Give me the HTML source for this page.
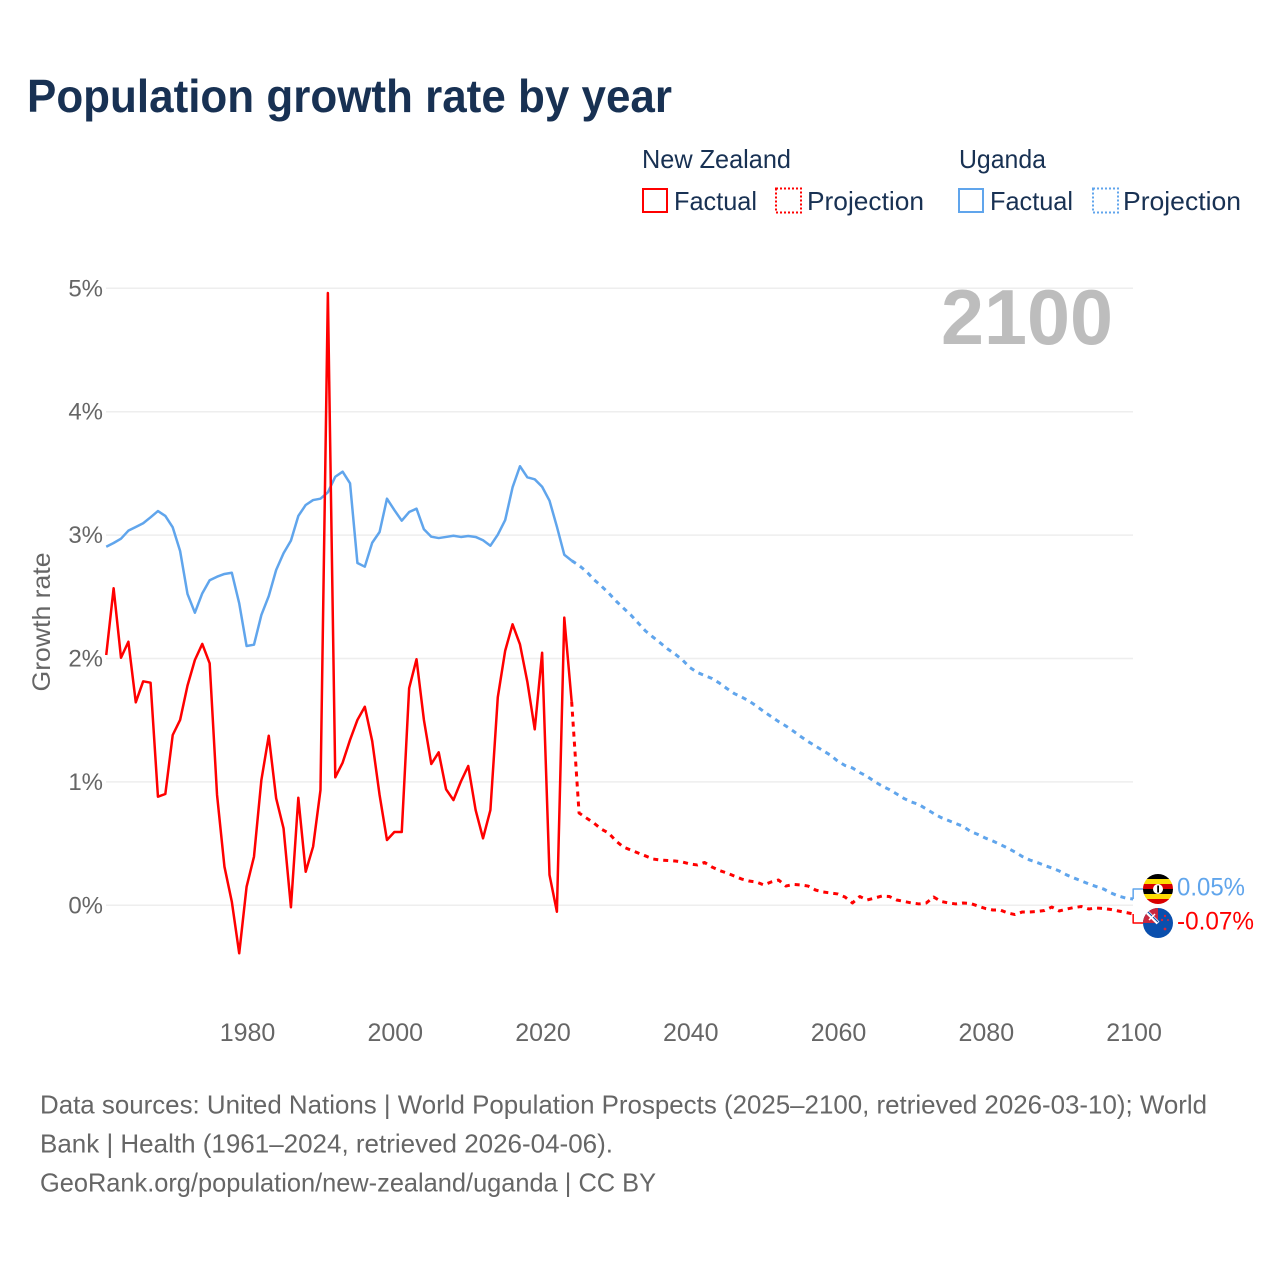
<!DOCTYPE html>
<html lang="en">
<head>
<meta charset="utf-8">
<title>Population growth rate by year</title>
<style>
html,body{margin:0;padding:0;background:#fff;}
svg{display:block;}
text{font-family:"Liberation Sans",sans-serif;}
</style>
</head>
<body>
<svg id="chart" xmlns="http://www.w3.org/2000/svg" width="1280" height="1280" viewBox="0 0 1280 1280">
  <defs>
    <clipPath id="ug-clip"><circle cx="1158" cy="889" r="15"/></clipPath>
    <clipPath id="nz-clip"><circle cx="1158" cy="923" r="15"/></clipPath>
  </defs>
  <rect x="0" y="0" width="1280" height="1280" fill="#fff"/>
  <text x="27" y="112" font-size="46" font-weight="700" fill="#183153" textLength="645" lengthAdjust="spacingAndGlyphs">Population growth rate by year</text>

  <g font-size="26" fill="#183153">
    <text x="642" y="168" textLength="149" lengthAdjust="spacingAndGlyphs">New Zealand</text>
    <rect x="643" y="189" width="24" height="23" fill="none" stroke="#ff0000" stroke-width="2"/>
    <text x="674" y="210" textLength="83" lengthAdjust="spacingAndGlyphs">Factual</text>
    <rect x="776" y="188.500" width="25" height="24" fill="none" stroke="#ff0000" stroke-width="2" stroke-dasharray="2 2"/>
    <text x="807" y="210" textLength="117" lengthAdjust="spacingAndGlyphs">Projection</text>
    <text x="959" y="168" textLength="87" lengthAdjust="spacingAndGlyphs">Uganda</text>
    <rect x="959" y="189" width="24" height="23" fill="none" stroke="#60a5ec" stroke-width="2"/>
    <text x="990" y="210" textLength="83" lengthAdjust="spacingAndGlyphs">Factual</text>
    <rect x="1093" y="188.500" width="25" height="24" fill="none" stroke="#60a5ec" stroke-width="2" stroke-dasharray="2 2"/>
    <text x="1123" y="210" textLength="118" lengthAdjust="spacingAndGlyphs">Projection</text>
  </g>

  <g id="grid"></g>
  <g id="y-ticks"></g>
  <g id="x-ticks"></g>

  <text transform="translate(50,622) rotate(-90)" text-anchor="middle" font-size="25" fill="#666" textLength="139" lengthAdjust="spacingAndGlyphs">Growth rate</text>
  <text x="941" y="344" font-size="78" font-weight="700" fill="#bdbdbd" textLength="172" lengthAdjust="spacingAndGlyphs">2100</text>

  <g id="series"></g>

  <g clip-path="url(#ug-clip)">
    <rect x="1143" y="874" width="30" height="5" fill="#000"/>
    <rect x="1143" y="879" width="30" height="5" fill="#fcdc04"/>
    <rect x="1143" y="884" width="30" height="5" fill="#d90000"/>
    <rect x="1143" y="889" width="30" height="5" fill="#000"/>
    <rect x="1143" y="894" width="30" height="5" fill="#fcdc04"/>
    <rect x="1143" y="899" width="30" height="5" fill="#d90000"/>
    <circle cx="1158" cy="889" r="5" fill="#fff"/>
    <rect x="1157.200" y="885.500" width="1.800" height="7" fill="#000"/>
  </g>
  <g clip-path="url(#nz-clip)">
    <rect x="1143" y="908" width="30" height="30" fill="#0a4fad"/>
    <rect x="1143" y="908" width="15" height="15" fill="#c8283f"/>
    <path d="M1145 910L1158 923" stroke="#fff" stroke-width="4" fill="none"/>
    <path d="M1147 911L1158 922" stroke="#0a4fad" stroke-width="1.200" fill="none"/>
    <path d="M1149 920L1155 914" stroke="#fff" stroke-width="1.500" fill="none"/>
    <circle cx="1165" cy="916" r="1.200" fill="#d5253a"/>
    <circle cx="1162" cy="920" r="1.200" fill="#d5253a"/>
    <circle cx="1168" cy="920" r="1" fill="#d5253a"/>
    <circle cx="1165" cy="929" r="1.400" fill="#d5253a"/>
  </g>

  <text x="1177" y="895.500" font-size="25" fill="#60a5ec" textLength="68" lengthAdjust="spacingAndGlyphs">0.05%</text>
  <text x="1177" y="929.500" font-size="25" fill="#ff0000" textLength="77" lengthAdjust="spacingAndGlyphs">-0.07%</text>

  <g font-size="26" fill="#666">
    <text x="40" y="1113.500" textLength="1167" lengthAdjust="spacingAndGlyphs">Data sources: United Nations | World Population Prospects (2025–2100, retrieved 2026-03-10); World</text>
    <text x="40" y="1152.500" textLength="573" lengthAdjust="spacingAndGlyphs">Bank | Health (1961–2024, retrieved 2026-04-06).</text>
    <text x="40" y="1191.500" textLength="616" lengthAdjust="spacingAndGlyphs">GeoRank.org/population/new-zealand/uganda | CC BY</text>
  </g>
</svg>
<script>
const yTickValues = [0, 1, 2, 3, 4, 5];
const yTickLabels = ["0%", "1%", "2%", "3%", "4%", "5%"];
const xTickYears = [1980, 2000, 2020, 2040, 2060, 2080, 2100];
const xTickLabels = ["1980", "2000", "2020", "2040", "2060", "2080", "2100"];
const factualStartYear = 1961;
const projectionStartYear = 2024;

const nzFactual = [2.028,2.569,2.006,2.136,1.645,1.815,1.804,0.880,0.902,1.380,1.502,1.780,1.988,2.118,1.961,0.894,0.313,0.029,-0.389,0.151,0.394,1.015,1.374,0.867,0.624,-0.016,0.872,0.272,0.475,0.934,4.962,1.037,1.156,1.340,1.502,1.609,1.331,0.894,0.529,0.594,0.594,1.759,1.994,1.502,1.145,1.240,0.940,0.853,1.002,1.129,0.772,0.543,0.772,1.686,2.063,2.277,2.115,1.812,1.426,2.047,0.246,-0.052,2.331,1.650];
const nzProjection = [1.650,0.748,0.707,0.667,0.618,0.586,0.521,0.472,0.448,0.424,0.400,0.375,0.367,0.363,0.359,0.351,0.335,0.327,0.347,0.310,0.282,0.262,0.237,0.213,0.197,0.189,0.165,0.189,0.205,0.156,0.169,0.165,0.156,0.124,0.108,0.100,0.092,0.067,0.019,0.071,0.043,0.059,0.075,0.071,0.043,0.031,0.019,0.011,0.019,0.067,0.031,0.019,0.011,0.019,0.015,-0.006,-0.026,-0.038,-0.038,-0.062,-0.075,-0.054,-0.054,-0.050,-0.042,-0.014,-0.046,-0.030,-0.018,-0.010,-0.030,-0.022,-0.026,-0.034,-0.046,-0.058,-0.070];
const ugFactual = [2.906,2.936,2.971,3.036,3.066,3.096,3.144,3.195,3.155,3.063,2.871,2.523,2.371,2.528,2.634,2.663,2.685,2.695,2.447,2.101,2.112,2.353,2.506,2.717,2.853,2.955,3.155,3.244,3.284,3.295,3.347,3.473,3.514,3.420,2.774,2.744,2.938,3.025,3.295,3.203,3.117,3.187,3.214,3.047,2.987,2.976,2.985,2.995,2.985,2.993,2.985,2.958,2.914,3.003,3.122,3.387,3.558,3.468,3.452,3.392,3.279,3.068,2.841,2.793];
const ugProjection = [2.793,2.754,2.705,2.640,2.588,2.531,2.466,2.409,2.353,2.288,2.223,2.174,2.126,2.077,2.036,1.988,1.927,1.887,1.862,1.838,1.801,1.757,1.716,1.688,1.656,1.615,1.570,1.530,1.489,1.453,1.412,1.368,1.327,1.291,1.254,1.218,1.169,1.133,1.113,1.076,1.044,1.003,0.967,0.938,0.902,0.865,0.837,0.817,0.780,0.744,0.711,0.687,0.663,0.639,0.598,0.574,0.545,0.521,0.493,0.464,0.432,0.395,0.367,0.347,0.323,0.302,0.278,0.246,0.221,0.197,0.173,0.152,0.132,0.100,0.075,0.059,0.051];

const NS = "http://www.w3.org/2000/svg";
const RED = "#ff0000";
const BLUE = "#60a5ec";

function xScale(year) { return 246.6 + (year - 1980) * 7.388; }
function yScale(value) { return 905.3 - value * 123.4; }

function linePath(values, startYear) {
  return values.map(function (v, i) {
    return (i ? "L" : "M") + xScale(startYear + i).toFixed(2) + " " + yScale(v).toFixed(2);
  }).join("");
}

const gridGroup = document.getElementById("grid");
const yTickGroup = document.getElementById("y-ticks");
const xTickGroup = document.getElementById("x-ticks");
const seriesGroup = document.getElementById("series");

yTickValues.forEach(function (v, i) {
  const ln = document.createElementNS(NS, "line");
  
  
  ln.setAttribute("x1", "106");
  ln.setAttribute("x2", "1133");
  ln.setAttribute("y1", yScale(v));
  ln.setAttribute("y2", yScale(v));
  ln.setAttribute("stroke", "#eeeeee");
  ln.setAttribute("stroke-width", "1.500");
  gridGroup.appendChild(ln);

  const t = document.createElementNS(NS, "text");
  
  
  t.setAttribute("x", "103");
  t.setAttribute("y", yScale(v) + 8);
  t.setAttribute("text-anchor", "end");
  t.setAttribute("font-size", "24");
  t.setAttribute("fill", "#666");
  t.textContent = yTickLabels[i];
  yTickGroup.appendChild(t);
});

xTickYears.forEach(function (yr, i) {
  const t = document.createElementNS(NS, "text");
  
  
  t.setAttribute("x", xScale(yr) + 0.9);
  t.setAttribute("y", "1041");
  t.setAttribute("text-anchor", "middle");
  t.setAttribute("font-size", "25");
  t.setAttribute("fill", "#666");
  t.textContent = xTickLabels[i];
  xTickGroup.appendChild(t);
});

function addLine(d, color, dashed, name, width) {
  const p = document.createElementNS(NS, "path");
  
  
  p.setAttribute("d", d);
  p.setAttribute("fill", "none");
  p.setAttribute("stroke", color);
  p.setAttribute("stroke-width", width);
  p.setAttribute("stroke-linejoin", "round");
  if (dashed) p.setAttribute("stroke-dasharray", "5 5");
  seriesGroup.appendChild(p);
}

addLine(linePath(ugFactual, factualStartYear), BLUE, false, "uganda-factual-line", "2.500");
addLine(linePath(ugProjection, projectionStartYear), BLUE, true, "uganda-projection-line", "3");
addLine(linePath(nzFactual, factualStartYear), RED, false, "new-zealand-factual-line", "2.500");
addLine(linePath(nzProjection, projectionStartYear), RED, true, "new-zealand-projection-line", "3");

const endX = xScale(2100);
const ugEnd = ugProjection[ugProjection.length - 1];
const nzEnd = nzProjection[nzProjection.length - 1];
addLine("M" + endX + " " + yScale(ugEnd) + "V889H1143", BLUE, false, "uganda-end-connector", "1.500");
addLine("M" + endX + " " + yScale(nzEnd) + "V923H1143", RED, false, "new-zealand-end-connector", "1.500");
</script>
</body>
</html>
